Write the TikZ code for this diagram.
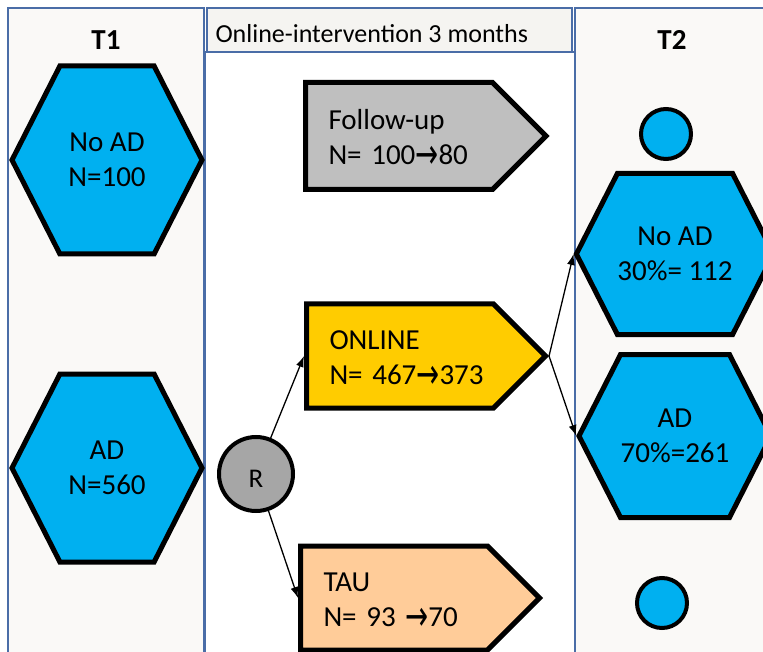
\documentclass[tikz,border=0pt]{standalone}
\usepackage{fontspec}
\setmainfont{Carlito}
\newfontfamily\arrowfont{DejaVu Sans}
\usetikzlibrary{shapes.symbols,arrows.meta}
\definecolor{adblue}{HTML}{00B0F0}
\definecolor{fugray}{HTML}{BFBFBF}
\definecolor{onyellow}{HTML}{FFCC00}
\definecolor{taupeach}{HTML}{FFCC99}
\definecolor{rgray}{HTML}{A6A6A6}
\definecolor{panelfill}{HTML}{FAF9F7}
\definecolor{headfill}{HTML}{F5F4F1}
\definecolor{panelline}{HTML}{4A6DA7}
\newcommand{\goesto}{\raisebox{-4pt}{\scalebox{0.95}[1.45]{\arrowfont →}}}
\begin{document}
\begin{tikzpicture}[x=1pt,y=-1pt,
  font=\fontsize{29}{35}\selectfont,
  panel/.style={draw=panelline,line width=1.3pt},
  hexa/.style={signal,signal to=east and west,signal pointer angle=126,draw,line width=5pt,fill=adblue,inner sep=0pt,align=center},
  arrowbox/.style={signal,signal to=east,signal pointer angle=90,draw,line width=5pt,inner xsep=23pt,inner ysep=0pt,text width=141pt,text height=20pt,text depth=33pt,align=left,anchor=west},
  dot/.style={circle,draw,line width=4pt,fill=adblue,inner sep=0pt,minimum size=50pt},
  link/.style={-{Latex[length=11pt,width=8pt]},line width=1.3pt}]
\useasboundingbox (0,0) rectangle (763,652);
\draw[panel,fill=panelfill] (8,8) rectangle (204,680);
\draw[panel,fill=white] (205,52) rectangle (575,680);
\draw[panel,fill=headfill] (207,8) rectangle (572,52);
\draw[panel,fill=panelfill] (575,8) rectangle (790,680);

\node[anchor=west,font=\fontsize{26}{30}\selectfont] (head) at (212,34) {Online-intervention 3 months};
\node[font=\fontsize{29}{29}\selectfont\bfseries] (t1) at (106,40) {T1};
\node[font=\fontsize{29}{29}\selectfont\bfseries] (t2) at (672,40) {T2};

\node[hexa,minimum width=190pt,minimum height=188pt] (noadA) at (107,160) {No AD\\N=100};
\node[hexa,minimum width=190pt,minimum height=188pt] (adA) at (107,468) {AD\\N=560};

\node[arrowbox,fill=fugray,minimum height=107pt] (follow) at (303,136) {Follow-up\\N=~100\goesto80};
\node[arrowbox,fill=onyellow,minimum height=104pt] (online) at (304,356) {ONLINE\\N=~467\goesto373};
\node[arrowbox,fill=taupeach,minimum height=104pt] (tau) at (298,598) {TAU\\N=~93~\goesto70};

\node[circle,draw,line width=4pt,fill=rgray,minimum size=74pt,inner sep=0pt,text height=27pt,text depth=-6pt,font=\fontsize{27}{27}\selectfont] (R) at (256,474) {R};

\node[dot] (headA) at (666,134) {};
\node[hexa,minimum width=192pt,minimum height=161pt] (noadB) at (675,254) {No AD\\30\%= 112};
\node[hexa,minimum width=192pt,minimum height=163pt] (adB) at (675,436) {AD\\70\%=261};
\node[dot] (headB) at (662,603) {};

\draw[link] (R) -- (online.west);
\draw[link] (R) -- (tau.west);
\draw[link] (online.east) -- (noadB.west);
\draw[link] (online.east) -- (adB.west);
\end{tikzpicture}
\end{document}
